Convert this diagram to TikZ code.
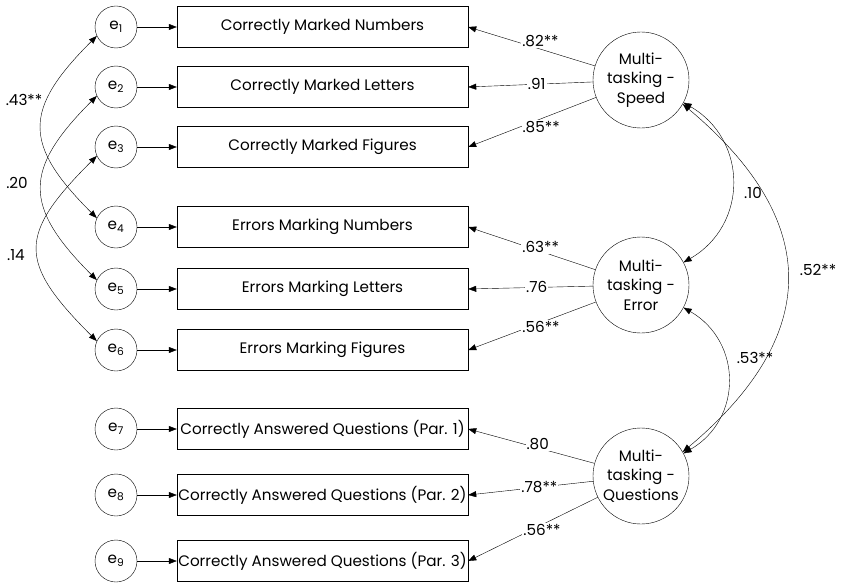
\documentclass[tikz,border=0pt]{standalone}
\usepackage{fontspec}
\setmainfont{Poppins}
\usetikzlibrary{arrows.meta}

\tikzset{
    err/.style={draw, circle, minimum size=42pt, inner sep=0pt},
    obs/.style={draw, minimum width=291pt, minimum height=41pt, inner sep=0pt},
    lat/.style={draw, circle, minimum size=96pt, inner sep=0pt, align=center},
    lbl/.style={fill=white, inner sep=1pt},
    reg/.style={-{Triangle[length=8pt,width=6pt]}},
    cov/.style={{Triangle[length=8pt,width=6pt]}-{Triangle[length=8pt,width=6pt]}},
}

\newcommand{\eterm}[1]{e\textsubscript{#1}}

\begin{document}
\begin{tikzpicture}[x=1pt, y=-1pt, font=\fontsize{15.2}{19.5}\selectfont]
    \useasboundingbox (0,0) rectangle (842,583);

    \node[err] (e1) at (116,27) {\eterm{1}};
    \node[err] (e2) at (116,87) {\eterm{2}};
    \node[err] (e3) at (116,147) {\eterm{3}};
    \node[err] (e4) at (116,227) {\eterm{4}};
    \node[err] (e5) at (116,289) {\eterm{5}};
    \node[err] (e6) at (116,350) {\eterm{6}};
    \node[err] (e7) at (116,429) {\eterm{7}};
    \node[err] (e8) at (116,495) {\eterm{8}};
    \node[err] (e9) at (116,561) {\eterm{9}};

    \node[obs] (m1) at (322.5,27) {Correctly Marked Numbers};
    \node[obs] (m2) at (322.5,87) {Correctly Marked Letters};
    \node[obs] (m3) at (322.5,147) {Correctly Marked Figures};
    \node[obs] (m4) at (322.5,227) {Errors Marking Numbers};
    \node[obs] (m5) at (322.5,289) {Errors Marking Letters};
    \node[obs] (m6) at (322.5,350) {Errors Marking Figures};
    \node[obs] (m7) at (322.5,429) {Correctly Answered Questions (Par. 1)};
    \node[obs] (m8) at (322.5,495) {Correctly Answered Questions (Par. 2)};
    \node[obs] (m9) at (322.5,561) {Correctly Answered Questions (Par. 3)};

    \node[lat] (speed) at (641,80) {Multi-\\tasking -\\Speed};
    \node[lat] (error) at (641,285) {Multi-\\tasking -\\Error};
    \node[lat] (quest) at (641,476) {Multi-\\tasking -\\Questions};

    \draw[reg] (e1) -- (m1);
    \draw[reg] (e2) -- (m2);
    \draw[reg] (e3) -- (m3);
    \draw[reg] (e4) -- (m4);
    \draw[reg] (e5) -- (m5);
    \draw[reg] (e6) -- (m6);
    \draw[reg] (e7) -- (m7);
    \draw[reg] (e8) -- (m8);
    \draw[reg] (e9) -- (m9);

    \draw[reg] (speed) -- (m1.east) node[lbl, pos=.43, yshift=8pt] {.82**};
    \draw[reg] (speed) -- (m2.east) node[lbl, pos=.45] {.91};
    \draw[reg] (speed) -- (m3.east) node[lbl, pos=.43, yshift=-8pt] {.85**};
    \draw[reg] (error) -- (m4.east) node[lbl, pos=.43, yshift=4pt] {.63**};
    \draw[reg] (error) -- (m5.east) node[lbl, pos=.45] {.76};
    \draw[reg] (error) -- (m6.east) node[lbl, pos=.43, yshift=-4pt] {.56**};
    \draw[reg] (quest) -- (m7.east) node[lbl, pos=.45, yshift=4pt] {.80};
    \draw[reg] (quest) -- (m8.east) node[lbl, pos=.43] {.78**};
    \draw[reg] (quest) -- (m9.east) node[lbl, pos=.43, yshift=-5pt] {.56**};

    \draw[cov] (e1.205) to[out=225, in=135, looseness=1.47] (e4.155);
    \draw[cov] (e2.205) to[out=225, in=135, looseness=1.45] (e5.155);
    \draw[cov] (e3.205) to[out=225, in=135, looseness=1.55] (e6.155);
    \node (c14) at (24,100) {.43**};
    \node (c25) at (17,183) {.20};
    \node (c36) at (16,255) {.14};

    \draw[cov] (speed.-28) to[out=-30, in=30, looseness=1.2] (error.28);
    \draw[cov] (error.-28) to[out=-30, in=30, looseness=1.2] (quest.28);
    \draw[cov] (speed.-30) to[out=-40, in=40, looseness=1.34] (quest.30);
    \node (c12) at (753,193) {.10};
    \node (c23) at (755,358) {.53**};
    \node (c13) at (818,270) {.52**};
\end{tikzpicture}
\end{document}
